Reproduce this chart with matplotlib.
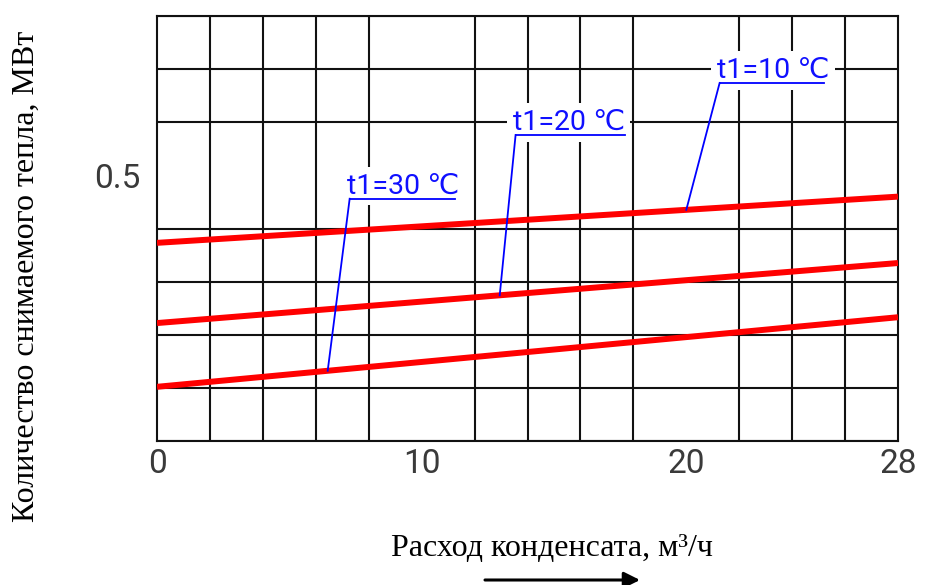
import numpy as np
import matplotlib
matplotlib.use("Agg")
import matplotlib.pyplot as plt
from matplotlib.transforms import offset_copy

# Расход конденсата, м3/ч — крайние точки прямых
flow = [0, 28]

# Количество снимаемого тепла, МВт, при разной температуре t1
heat_t10 = [0.373, 0.460]
heat_t20 = [0.222, 0.335]
heat_t30 = [0.102, 0.233]

series_labels = ["t1=10 \u2103", "t1=20 \u2103", "t1=30 \u2103"]

# Выноски: точка на линии (по x), начало и конец полки подписи
leader_foot_x = [20.0, 12.95, 6.45]
shelf_start = [(21.26, 0.674), (13.55, 0.576), (7.28, 0.456)]
shelf_end_x = [25.2, 17.7, 11.25]

x_ticks = [0, 10, 20, 28]
y_ticks = [0.5]
x_grid = np.arange(0, 29, 2)
y_grid = np.arange(0, 0.81, 0.1)

num_font = ["Roboto", "DejaVu Sans"]
serif_font = ["Liberation Serif", "DejaVu Serif"]

fig = plt.figure(figsize=(9.26, 5.85), dpi=100)
ax = fig.add_axes([157 / 926, 1 - 441 / 585, 741 / 926, 425 / 585])

ax.set_xlim(0, 28)
ax.set_ylim(0, 0.8)

# сетка
ax.set_xticks(x_grid, minor=True)
ax.set_yticks(y_grid, minor=True)
ax.grid(which="minor", color="#111111", linewidth=1.5)
ax.grid(which="major", visible=False)

ax.set_xticks(x_ticks)
ax.set_xticklabels([str(v) for v in x_ticks], family=num_font,
                   fontsize=24, color="#3a3a3a")
ax.set_yticks(y_ticks)
ax.set_yticklabels([str(v) for v in y_ticks], family=num_font,
                   fontsize=24, color="#3a3a3a")
ax.tick_params(which="both", length=0)
ax.tick_params(axis="x", pad=5)
ax.tick_params(axis="y", pad=12)

for sp in ax.spines.values():
    sp.set_color("#111111")
    sp.set_linewidth(1.5)

# линии зависимости
all_series = [heat_t10, heat_t20, heat_t30]
for vals in all_series:
    ax.plot(flow, vals, color="#ff0000", linewidth=4.3, solid_capstyle="butt", zorder=4)

# подписи с выносками
text_tr = offset_copy(ax.transData, fig=fig, x=-3, y=5, units="dots")
for label, vals, foot_x, (sx, sy), ex in zip(series_labels, all_series, leader_foot_x, shelf_start, shelf_end_x):
    foot_y = np.interp(foot_x, flow, vals)
    ax.text(sx, sy, label, transform=text_tr, ha="left", va="baseline",
            family=num_font, fontsize=20.5, color="#1010ff", zorder=5,
            bbox=dict(facecolor="white", edgecolor="none", pad=4))
    ax.plot([sx, ex], [sy, sy], color="#0000ff", linewidth=1.3, zorder=6)
    ax.plot([foot_x, sx], [foot_y, sy], color="#0000ff", linewidth=1.3, zorder=6)

# подписи осей
fig.text(26 / 926, 1 - 276 / 585, "Количество снимаемого тепла, МВт", rotation=90,
         ha="center", va="center", family=serif_font, fontsize=23)
fig.text(552 / 926, 1 - 556 / 585, "Расход конденсата, м\u00b3/ч",
         ha="center", va="baseline", family=serif_font, fontsize=23)

# стрелка направления роста расхода
ax.annotate("", xy=(640 / 926, 1 - 580 / 585), xytext=(485 / 926, 1 - 580 / 585),
            xycoords="figure fraction", textcoords="figure fraction",
            arrowprops=dict(arrowstyle="-|>", color="black", lw=2.2, mutation_scale=24,
                            shrinkA=0, shrinkB=0))

fig.savefig("out.png", dpi=100)
